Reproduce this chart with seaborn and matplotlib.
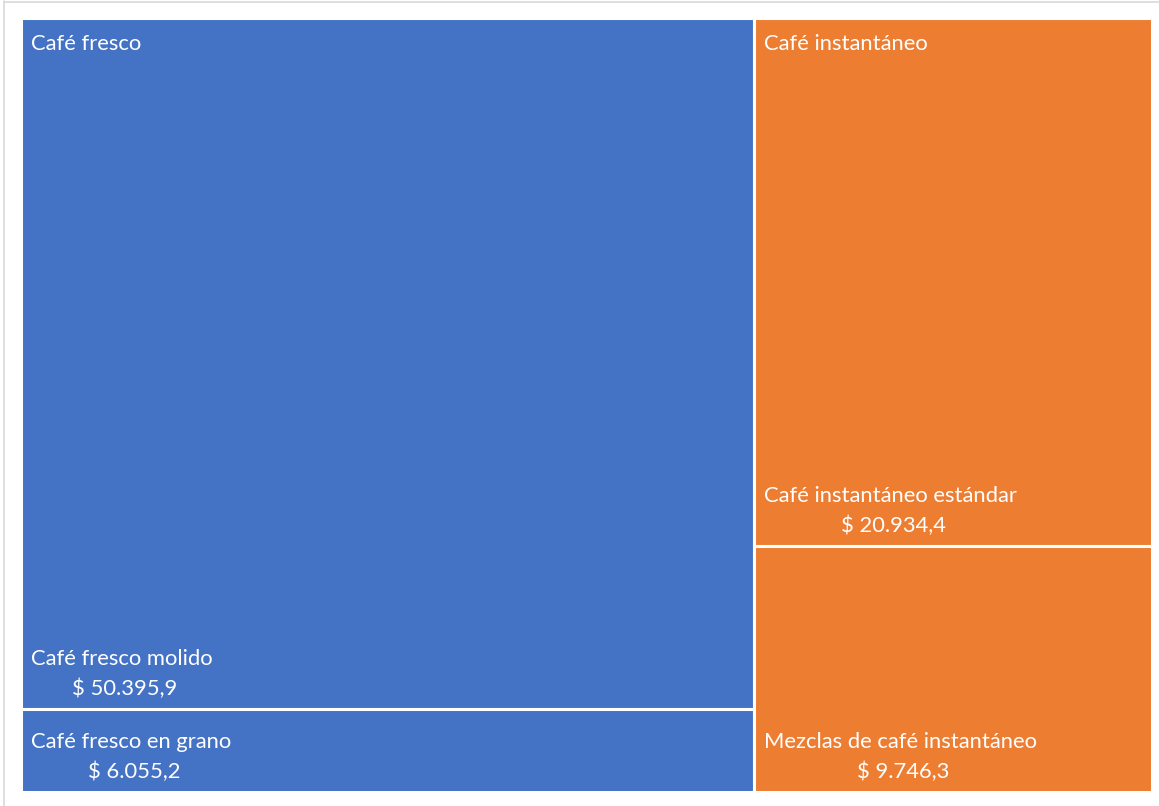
import matplotlib
matplotlib.use("Agg")
import matplotlib.pyplot as plt
import seaborn as sns
from matplotlib.patches import Rectangle
from matplotlib.lines import Line2D

# ---- data ----
groups = ["Café fresco", "Café instantáneo"]
group_colors = ["#4472C4", "#ED7D31"]
leaf_names = [
    ["Café fresco molido", "Café fresco en grano"],
    ["Café instantáneo estándar", "Mezclas de café instantáneo"],
]
leaf_values = [
    [50395.9, 6055.2],
    [20934.4, 9746.3],
]
value_labels = [
    ["$ 50.395,9", "$ 6.055,2"],
    ["$ 20.934,4", "$ 9.746,3"],
]

sns.set_theme(style="white")
plt.rcParams["font.family"] = ["Lato", "DejaVu Sans"]

W, H = 1159, 806
DPI = 100
fig = plt.figure(figsize=(W / DPI, H / DPI), dpi=DPI)
ax = fig.add_axes([21 / W, 1 - 792 / H, (1152 - 21) / W, (792 - 18) / H])
ax.set_xlim(0, 1)
ax.set_ylim(1, 0)
ax.axis("off")

renderer = fig.canvas.get_renderer()
total = sum(sum(v) for v in leaf_values)
x0 = 0.0
fs = 15.8
pad = 7.3
for gi, g in enumerate(groups):
    gsum = sum(leaf_values[gi])
    gw = gsum / total
    y0 = 0.0
    for li, (name, val) in enumerate(zip(leaf_names[gi], leaf_values[gi])):
        h = val / gsum
        ax.add_patch(Rectangle((x0, y0), gw, h, facecolor=group_colors[gi],
                               edgecolor="white", linewidth=2.2))
        # leaf labels at bottom-left
        t = ax.annotate(name, xy=(x0, y0 + h), xytext=(pad, 36), textcoords="offset points",
                        color="white", fontsize=fs, ha="left", va="center")
        wpx = t.get_window_extent(renderer=renderer).width
        ax.annotate(value_labels[gi][li], xy=(x0, y0 + h),
                    xytext=(pad + wpx / 2 * 72 / DPI + 2, 14.5),
                    textcoords="offset points", color="white", fontsize=fs,
                    ha="center", va="center")
        y0 += h
    # parent label at top-left
    ax.annotate(g, xy=(x0, 0), xytext=(pad, -19), textcoords="offset points",
                color="white", fontsize=fs, ha="left", va="center")
    x0 += gw

# outer light frame
fig.add_artist(Line2D([4 / W, 4 / W], [0, 1 - 1 / H], transform=fig.transFigure,
                      color="#d9d9d9", linewidth=1.2))
fig.add_artist(Line2D([4 / W, 1], [1 - 1.5 / H, 1 - 1.5 / H], transform=fig.transFigure,
                      color="#d9d9d9", linewidth=1.2))

fig.savefig("out.png", dpi=DPI)
